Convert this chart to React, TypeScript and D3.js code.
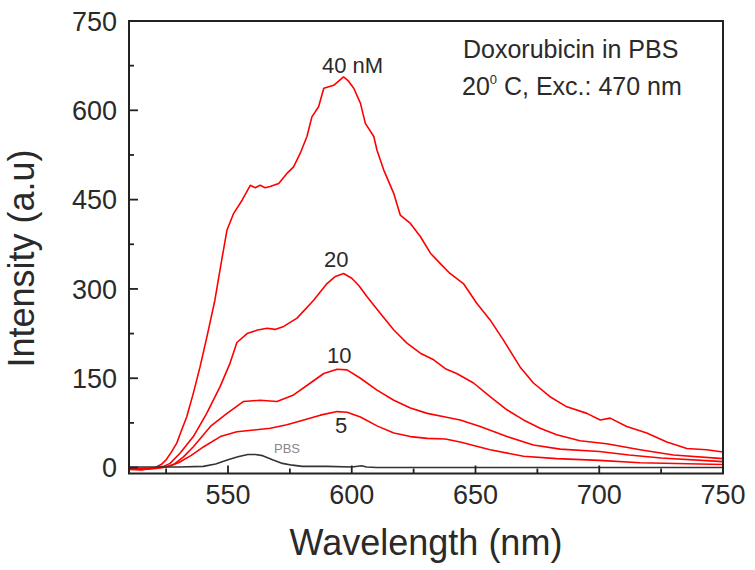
import React from "react";
import * as d3 from "d3";

// ---- data (wavelength nm, intensity a.u.) ----
const wl40 = [510, 515, 520, 523, 525, 527, 529.3, 531, 533.3, 536, 538.7, 541.5, 544.7, 547.6, 549.6, 552.3, 555.7, 559, 561, 563, 565, 567, 570.5, 573.8, 576.5, 579.2, 581.9, 583.9, 586.6, 588.7, 592.7, 596.7, 598.5, 600.8, 603.5, 605.5, 608.9, 610.2, 612.9, 617, 619.6, 623.7, 627.7, 631.8, 635.7, 639.7, 645.1, 650.5, 655.9, 661.3, 668, 673.4, 680.1, 686.9, 695, 700.4, 704.4, 711.1, 719.2, 727.3, 735.4, 743.4, 750];
const int40 = [-3, -4, -1, 5, 13, 25, 41, 60, 85, 125, 169, 220, 281, 352, 399, 427, 449, 474, 470, 474, 470, 472, 477, 494, 505, 528, 556, 589, 606, 637, 642, 656, 650, 637, 612, 578, 556, 533, 500, 460, 424, 410, 388, 360, 343, 326, 309, 276, 248, 214, 169, 142, 119, 102, 91, 80, 83, 69, 58, 43, 32, 30, 26];

const wl20 = [510, 515, 520, 524, 526.6, 530.6, 536, 541.4, 546.8, 550.8, 553.6, 557.7, 562, 565.8, 569, 572.5, 577.9, 584.6, 590, 593.4, 596.7, 600, 603, 606.2, 611.5, 617, 622.3, 627.7, 633.1, 637.8, 642.4, 649.2, 655.9, 662.7, 669.4, 676.1, 682.8, 692.2, 703, 716.5, 730, 750];
const int20 = [-2, -3, -1, 2, 7, 24, 52, 91, 136, 175, 210, 225, 231, 234, 232, 237, 251, 281, 309, 321, 326, 318, 305, 287, 259, 231, 209, 192, 181, 166, 158, 142, 119, 97, 80, 66, 55, 45, 40, 30, 21, 15];

const wl10 = [510, 520, 524, 528, 532, 536, 542.9, 549.6, 556.3, 563, 569.8, 576.5, 583.3, 588.7, 594.1, 598.1, 603.5, 610.2, 617, 623.7, 630.5, 637.8, 643.8, 651.9, 662.7, 673.4, 684.2, 700, 712, 725, 750];
const int10 = [-2, -2, 0, 5, 18, 35, 69, 91, 111, 113, 111, 122, 142, 158, 165, 164, 150, 130, 113, 100, 91, 85, 80, 69, 52, 38, 31, 27, 21, 16, 10];

const wl5 = [510, 520, 526, 530, 535, 540.2, 546.9, 553.6, 560.4, 567.1, 573.8, 580.6, 587.3, 594.1, 598.1, 603.5, 610.2, 617, 623.7, 630.5, 637.8, 643.8, 655.9, 669.4, 682.8, 700, 716.5, 750];
const int5 = [-2, -1, 2, 8, 20, 35, 52, 60, 63, 66, 72, 80, 88, 94, 93, 85, 70, 58, 52, 49, 48, 43, 30, 19, 15, 12, 8, 5];

const wlPBS = [510, 530, 540, 545, 550, 554, 558, 561, 564, 568, 572, 576, 580, 590, 600, 604, 606, 610, 650, 700, 750];
const intPBS = [1, 1, 2, 6, 13, 18, 22, 22, 20, 13, 7, 4, 2, 2, 1, 3, 1, 0, 0, 0, 0];

const xTicks = [550, 600, 650, 700, 750];
const xMinor = [525, 575, 625, 675, 725];
const yTicks = [0, 150, 300, 450, 600, 750];
const yMinor = [75, 225, 375, 525, 675];

const seriesList = [
  { name: "40 nM", wl: wl40, val: int40, color: "#ff0000" },
  { name: "20", wl: wl20, val: int20, color: "#ff0000" },
  { name: "10", wl: wl10, val: int10, color: "#ff0000" },
  { name: "5", wl: wl5, val: int5, color: "#ff0000" },
  { name: "PBS", wl: wlPBS, val: intPBS, color: "#333333" },
];

const W = 755;
const H = 570;
const L = 129, R = 723, T = 21, B = 473.5;

export default function App() {
  const x = d3.scaleLinear().domain([510, 750]).range([L, R]);
  const y = d3.scaleLinear().domain([-10, 750]).range([B, T]);
  const line = d3
    .line<[number, number]>()
    .x((d) => x(d[0]))
    .y((d) => y(d[1]));

  const font = "'Liberation Sans', Arial, sans-serif";
  const txt = "#2a2a2a";

  return (
    <svg
      width={W}
      height={H}
      style={{ position: "absolute", left: 0, top: 0, background: "#fff" }}
      fontFamily={font}
    >
      <defs>
        <clipPath id="plotclip">
          <rect x={L} y={T} width={R - L} height={B - T} />
        </clipPath>
      </defs>
      <rect x={0} y={0} width={W} height={H} fill="#fff" />
      <g clipPath="url(#plotclip)">
        {seriesList.map((s) => (
          <path
            key={s.name}
            d={line(s.wl.map((w, i) => [w, s.val[i]] as [number, number])) || ""}
            fill="none"
            stroke={s.color}
            strokeWidth={1.6}
            strokeLinejoin="round"
          />
        ))}
      </g>
      {/* frame */}
      <rect x={L} y={T} width={R - L} height={B - T} fill="none" stroke="#222" strokeWidth={2} />
      {/* x ticks */}
      {xTicks.map((t) => (
        <g key={"xt" + t}>
          <line x1={x(t)} x2={x(t)} y1={B} y2={B - 8} stroke="#222" strokeWidth={1.8} />
          <text x={x(t)} y={504} textAnchor="middle" fontSize={27} fill={txt}>
            {t}
          </text>
        </g>
      ))}
      {xMinor.map((t) => (
        <line key={"xm" + t} x1={x(t)} x2={x(t)} y1={B} y2={B - 5} stroke="#222" strokeWidth={1.8} />
      ))}
      {/* y ticks */}
      {yTicks.map((t) => (
        <g key={"yt" + t}>
          <line x1={L} x2={L + 9} y1={y(t)} y2={y(t)} stroke="#222" strokeWidth={1.8} />
          <text x={117} y={y(t)} dy="0.36em" textAnchor="end" fontSize={27} fill={txt}>
            {t}
          </text>
        </g>
      ))}
      {yMinor.map((t) => (
        <line key={"ym" + t} x1={L} x2={L + 5} y1={y(t)} y2={y(t)} stroke="#222" strokeWidth={1.8} />
      ))}
      {/* axis titles */}
      <text x={(L + R) / 2} y={555} textAnchor="middle" fontSize={36} fill={txt}>
        Wavelength (nm)
      </text>
      <text
        transform={`translate(34, ${(147 + 370) / 2}) rotate(-90)`}
        textAnchor="middle"
        fontSize={36}
        fill={txt}
      >
        Intensity (a.u)
      </text>
      {/* annotation */}
      <text x={463} y={58} fontSize={25} fill={txt}>
        Doxorubicin in PBS
      </text>
      <text x={462} y={95} fontSize={25} fill={txt}>
        20
        <tspan fontSize={13} dy={-11}>0</tspan>
        <tspan dy={11}> C, Exc.: 470 nm</tspan>
      </text>
      {/* curve labels */}
      <text x={322} y={73} fontSize={22} fill={txt}>40 nM</text>
      <text x={324} y={267} fontSize={22} fill={txt}>20</text>
      <text x={327} y={363} fontSize={22} fill={txt}>10</text>
      <text x={335} y={433} fontSize={22} fill={txt}>5</text>
      <text x={274} y={453} fontSize={13} fill="#888">PBS</text>
    </svg>
  );
}
